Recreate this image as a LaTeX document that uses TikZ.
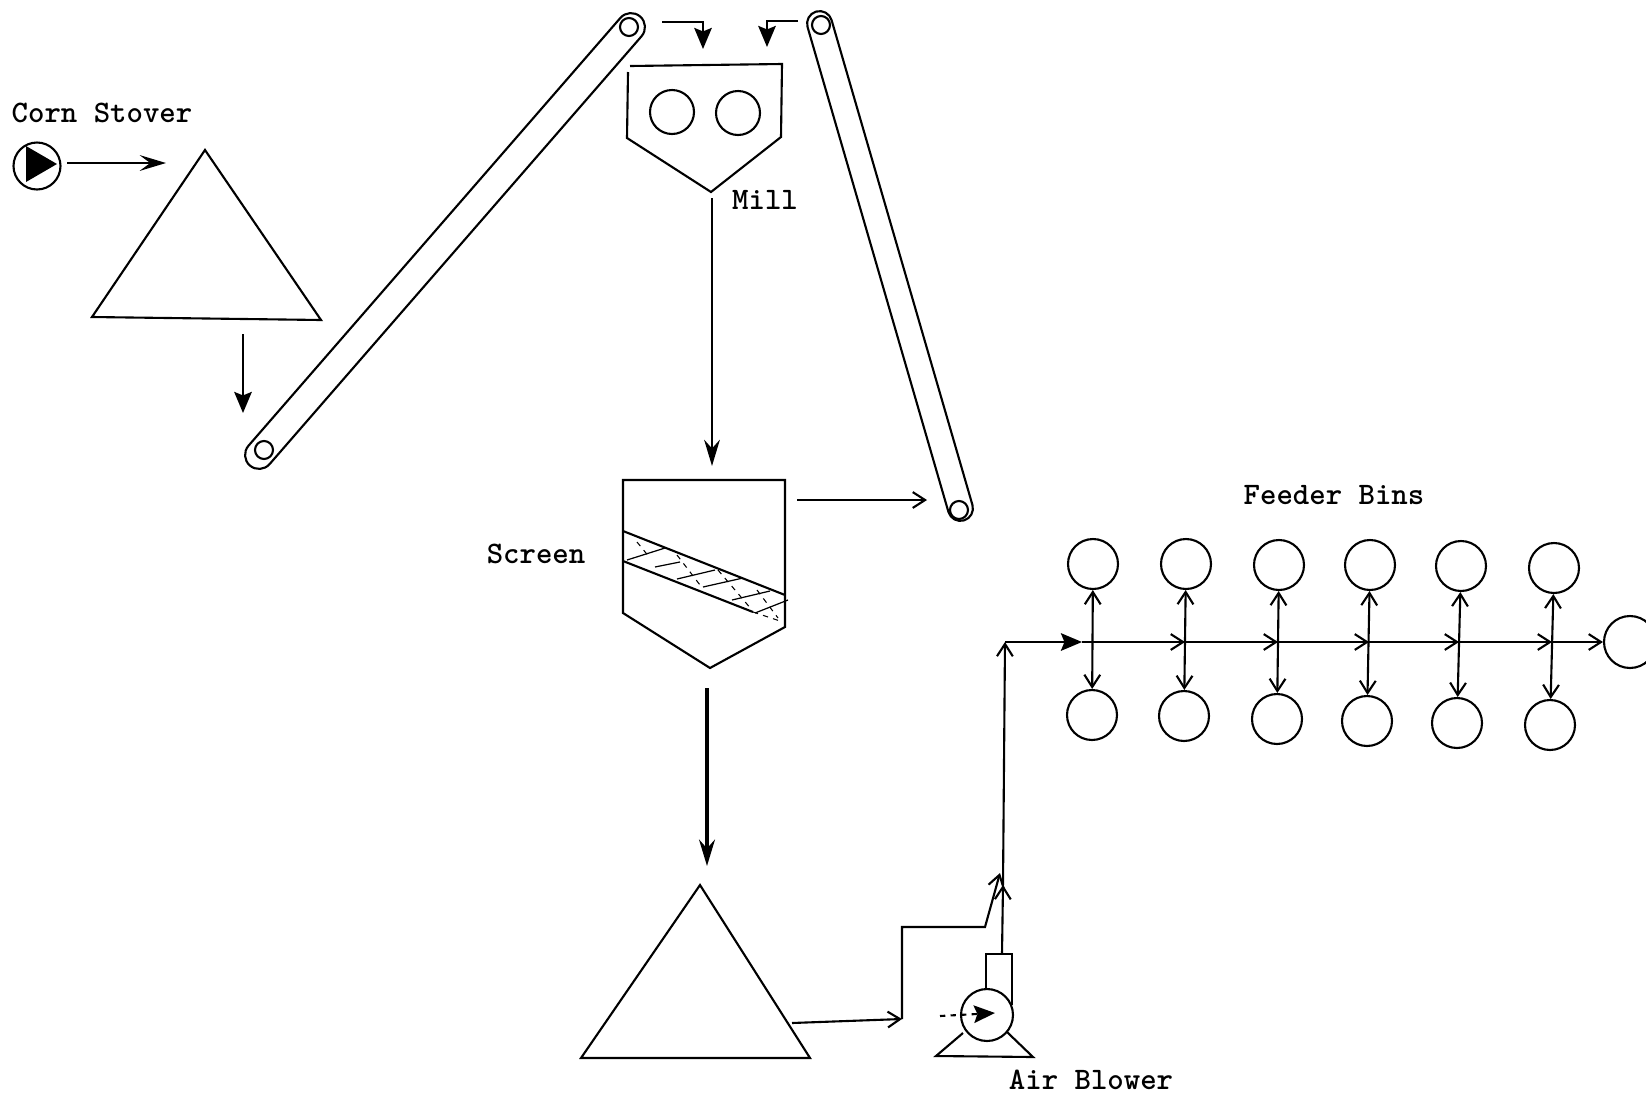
\documentclass[tikz,border=0pt]{standalone}
\usepackage{tikz}
\usetikzlibrary{shapes.misc, arrows.meta}

\begin{document}
\begin{tikzpicture}[x=0.02cm, y=-0.02cm, line width=1.2pt,
        belt/.style={rounded rectangle, draw=black, inner sep=0pt, minimum height=0.56cm},
        pulley/.style={circle, draw=black, inner sep=0pt, minimum size=0.36cm},
        roll/.style={circle, draw=black, inner sep=0pt, minimum size=0.88cm},
        bin/.style={circle, draw=black, inner sep=0pt, minimum size=1cm},
        label/.style={font=\ttfamily\bfseries\fontsize{17.8}{20}\selectfont, inner sep=0pt},
        arrow/.style={-{Straight Barb[length=7pt,width=9pt]}},
        swept arrow/.style={-{Stealth[length=15pt,width=9pt,inset=6pt]}},
        long arrow/.style={-{Stealth[length=15pt,width=9pt,inset=5pt]}},
        solid arrow/.style={-{Stealth[length=12pt,width=10pt,inset=2pt]}},
        both arrow/.style={{Straight Barb[length=7pt,width=9pt]}-{Straight Barb[length=7pt,width=9pt]}}]

        \useasboundingbox (0, 0) rectangle (1646, 1096);

        % corn stover feed
        \node (stover) [label] at (102, 113) {Corn Stover};
        \node (feed) [circle, draw=black, inner sep=0pt, minimum size=0.94cm] at (37, 166) {};
        \fill (26, 146) -- (57, 164) -- (26, 182) -- cycle;
        \coordinate (feedOut) at (67, 163);
        \coordinate (pileIn) at (166, 163);
        \draw [swept arrow] (feedOut) -- (pileIn);
        \draw (205, 150) -- (92, 317) -- (321, 320) -- cycle;

        % conveyors
        \coordinate (pileOut) at (243, 334);
        \coordinate (beltIn) at (243, 413);
        \draw [solid arrow] (pileOut) -- (beltIn);
        \node (beltA) [belt, minimum width=11.9cm, rotate=49] at (445, 241) {};
        \node (pulleyA) [pulley] at (264, 450) {};
        \node (pulleyB) [pulley] at (629, 27) {};
        \node (beltB) [belt, minimum height=0.5cm, minimum width=10.6cm, rotate=-73.8] at (890, 266) {};
        \node (pulleyC) [pulley] at (821, 25) {};
        \node (pulleyD) [pulley] at (959, 510) {};

        % mill
        \draw (630, 66) -- (782, 64) -- (781, 137) -- (711, 192) -- (627, 138) -- (628, 72);
        \node (rollA) [roll] at (672, 112) {};
        \node (rollB) [roll] at (738, 113) {};
        \node (mill) [label] at (765, 200) {Mill};
        \coordinate (millInA) at (662, 22);
        \coordinate (millInB) at (798, 21);
        \draw [solid arrow] (millInA) -- (703, 22) -- (703, 49);
        \draw [solid arrow] (millInB) -- (767, 21) -- (767, 47);
        \coordinate (millOut) at (712, 198);
        \coordinate (screenIn) at (712, 466);
        \draw [long arrow] (millOut) -- (screenIn);

        % screen
        \node (screen) [label] at (536, 554) {Screen};
        \draw (623, 480) -- (785, 480) -- (785, 627) -- (710, 668) -- (623, 613) -- cycle;
        \draw (623, 531) -- (785, 595);
        \draw (623, 561) -- (753, 612);
        \draw [dashed, line width=0.6pt] (753, 612) -- (780, 621);
        \draw [line width=0.7pt] (627, 560) -- (665, 548);
        \draw [line width=0.7pt] (655, 567) -- (680, 562);
        \draw [line width=0.7pt] (677, 579) -- (715, 570);
        \draw [line width=0.7pt] (703, 587) -- (743, 578);
        \draw [line width=0.7pt] (732, 600) -- (770, 591);
        \draw [line width=0.7pt] (755, 613) -- (788, 600);
        \draw [dashed, line width=0.6pt] (637, 542) -- (650, 558);
        \draw [dashed, line width=0.6pt] (677, 555) -- (700, 585);
        \draw [dashed, line width=0.6pt] (718, 570) -- (752, 610);
        \draw [dashed, line width=0.6pt] (757, 590) -- (778, 618);
        \coordinate (screenOver) at (797, 500);
        \coordinate (beltReturn) at (927, 500);
        \draw [arrow] (screenOver) -- (beltReturn);
        \coordinate (screenOut) at (707, 688);
        \coordinate (pileBIn) at (707, 866);
        \draw [long arrow, line width=2.2pt] (screenOut) -- (pileBIn);

        % product pile and air line
        \draw (700, 885) -- (581, 1058) -- (810, 1058) -- cycle;
        \coordinate (pileBOut) at (792, 1023);
        \coordinate (lineFoot) at (902, 1019);
        \draw [arrow] (pileBOut) -- (lineFoot);
        \coordinate (lineTop) at (902, 927);
        \coordinate (lineBend) at (985, 927);
        \coordinate (lineMerge) at (1000, 873);
        \draw [arrow] (lineFoot) -- (lineTop) -- (lineBend) -- (lineMerge);

        % air blower
        \node (blower) [circle, draw=black, inner sep=0pt, minimum size=1.04cm] at (987, 1015) {};
        \draw (986, 989) -- (986, 954) -- (1012, 954) -- (1012, 1005);
        \draw (963, 1033) -- (936, 1056) -- (1033, 1057) -- (1007, 1032);
        \coordinate (airIn) at (940, 1016);
        \coordinate (airTip) at (995, 1013);
        \draw [solid arrow, dashed] (airIn) -- (airTip);
        \node (air) [label] at (1091, 1080) {Air Blower};
        \coordinate (ductTop) at (1002, 954);
        \coordinate (ductTip) at (1003, 885);
        \draw [arrow] (ductTop) -- (ductTip);
        \coordinate (corner) at (1005, 642);
        \draw [arrow] (ductTip) -- (corner);

        % feeder bins
        \node (feeder) [label] at (1334, 495) {Feeder Bins};
        \node (binTa) [bin] at (1093, 564) {};
        \node (binTb) [bin] at (1186, 564) {};
        \node (binTc) [bin] at (1279, 565) {};
        \node (binTd) [bin] at (1370, 565) {};
        \node (binTe) [bin] at (1461, 566) {};
        \node (binTf) [bin] at (1554, 568) {};
        \node (binBa) [bin] at (1092, 715) {};
        \node (binBb) [bin] at (1184, 716) {};
        \node (binBc) [bin] at (1277, 719) {};
        \node (binBd) [bin] at (1367, 721) {};
        \node (binBe) [bin] at (1457, 723) {};
        \node (binBf) [bin] at (1550, 725) {};
        \node (cyclone) [circle, draw=black, inner sep=0pt, minimum size=1.04cm] at (1630, 642) {};

        \draw [both arrow] (binTa) -- (binBa);
        \draw [both arrow] (binTb) -- (binBb);
        \draw [both arrow] (binTc) -- (binBc);
        \draw [both arrow] (binTd) -- (binBd);
        \draw [both arrow] (binTe) -- (binBe);
        \draw [both arrow] (binTf) -- (binBf);

        \coordinate (teeIn) at (1082, 642);
        \coordinate (teeA) at (1092, 642);
        \coordinate (teeB) at (1185, 642);
        \coordinate (teeC) at (1278, 642);
        \coordinate (teeD) at (1369, 642);
        \coordinate (teeE) at (1459, 642);
        \coordinate (teeF) at (1552, 642);
        \draw [solid arrow] (corner) -- (teeIn);
        \draw (teeIn) -- (teeA);
        \draw [arrow] (teeA) -- (teeB);
        \draw [arrow] (teeB) -- (teeC);
        \draw [arrow] (teeC) -- (teeD);
        \draw [arrow] (teeD) -- (teeE);
        \draw [arrow] (teeE) -- (teeF);
        \draw [arrow] (teeF) -- (cyclone);
    \end{tikzpicture}
\end{document}
